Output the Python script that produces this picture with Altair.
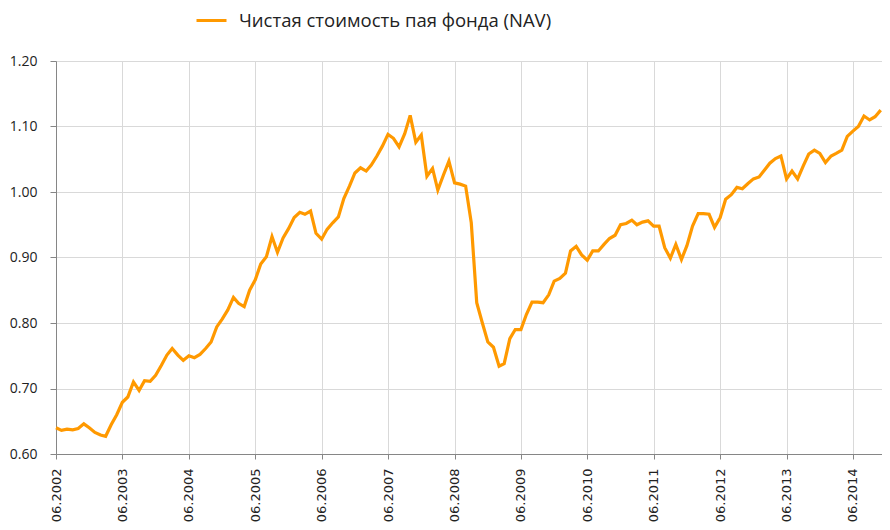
import altair as alt
import pandas as pd

series_name = "Чистая стоимость пая фонда (NAV)"

nav = [
    0.640, 0.636, 0.638, 0.637, 0.639, 0.646, 0.640, 0.633, 0.629, 0.627,
    0.645, 0.660, 0.679, 0.687, 0.710, 0.697, 0.712, 0.711, 0.720, 0.735,
    0.751, 0.761, 0.751, 0.743, 0.750, 0.747, 0.752, 0.761, 0.771, 0.794,
    0.806, 0.820, 0.839, 0.830, 0.825, 0.850, 0.866, 0.890, 0.901, 0.932,
    0.908, 0.930, 0.944, 0.961, 0.969, 0.966, 0.971, 0.937, 0.928, 0.943,
    0.953, 0.962, 0.990, 1.009, 1.029, 1.037, 1.032, 1.041, 1.055, 1.070,
    1.088, 1.082, 1.069, 1.089, 1.117, 1.076, 1.087, 1.024, 1.036, 1.003,
    1.026, 1.047, 1.014, 1.012, 1.009, 0.953, 0.831, 0.800, 0.771, 0.763,
    0.734, 0.738, 0.776, 0.790, 0.790, 0.813, 0.832, 0.832, 0.831, 0.843,
    0.864, 0.868, 0.876, 0.910, 0.917, 0.904, 0.896, 0.910, 0.910, 0.920,
    0.929, 0.934, 0.950, 0.952, 0.957, 0.950, 0.954, 0.956, 0.948, 0.948,
    0.915, 0.899, 0.920, 0.897, 0.918, 0.948, 0.967, 0.967, 0.966, 0.946,
    0.961, 0.989, 0.996, 1.007, 1.005, 1.013, 1.020, 1.023, 1.034, 1.044,
    1.051, 1.055, 1.020, 1.032, 1.020, 1.040, 1.058, 1.064, 1.059, 1.045,
    1.055, 1.059, 1.064, 1.085, 1.093, 1.100, 1.116, 1.110, 1.115, 1.125,
]

months = [d.strftime("%Y-%m-%dT00:00:00") for d in pd.date_range("2002-06-01", periods=len(nav), freq="MS")]
tick_years = list(range(2002, 2015))
y_ticks = [0.60, 0.70, 0.80, 0.90, 1.00, 1.10, 1.20]

df = pd.DataFrame({"date": months, "nav": nav, "series": series_name})

x_values = [alt.DateTime(year=y, month=6, date=1) for y in tick_years]

chart = alt.Chart(df).mark_line(strokeWidth=3.2).encode(
    x=alt.X(
        "date:T",
        title=None,
        scale=alt.Scale(domain=[alt.DateTime(year=2002, month=6, date=1),
                                alt.DateTime(year=2014, month=11, date=8)]),
        axis=alt.Axis(values=x_values, format="%m.%Y", labelAngle=-90,
                      labelFont="DejaVu Sans", labelFontSize=13, labelColor="#222222",
                      tickSize=5, labelPadding=9, grid=True, gridColor="#d9d9d9",
                      domainColor="#868686", tickColor="#868686", labelOverlap=False,
                      labelFlush=False),
    ),
    y=alt.Y(
        "nav:Q",
        title=None,
        scale=alt.Scale(domain=[0.6, 1.2], nice=False, zero=False),
        axis=alt.Axis(values=y_ticks, format=".2f", labelFont="Open Sans",
                      labelFontSize=14, labelColor="#222222", tickSize=6,
                      labelPadding=13, grid=True, gridColor="#d9d9d9",
                      domainColor="#868686", tickColor="#868686"),
    ),
    color=alt.Color(
        "series:N",
        scale=alt.Scale(domain=[series_name], range=["#ff9900"]),
        legend=alt.Legend(title=None, orient="none", legendX=139, legendY=-57,
                          symbolType="stroke", symbolSize=900, symbolStrokeWidth=3,
                          labelFont="Open Sans", labelFontSize=18.5, labelColor="#222222",
                          labelOffset=11, labelLimit=0, padding=0),
    ),
).properties(
    width=826,
    height=393,
    autosize=alt.AutoSizeParams(type="none"),
    padding={"left": 48, "top": 53, "right": 0, "bottom": 68},
).configure_view(stroke=None)

chart.save("out.html", embed_options={"renderer": "svg", "actions": False})
